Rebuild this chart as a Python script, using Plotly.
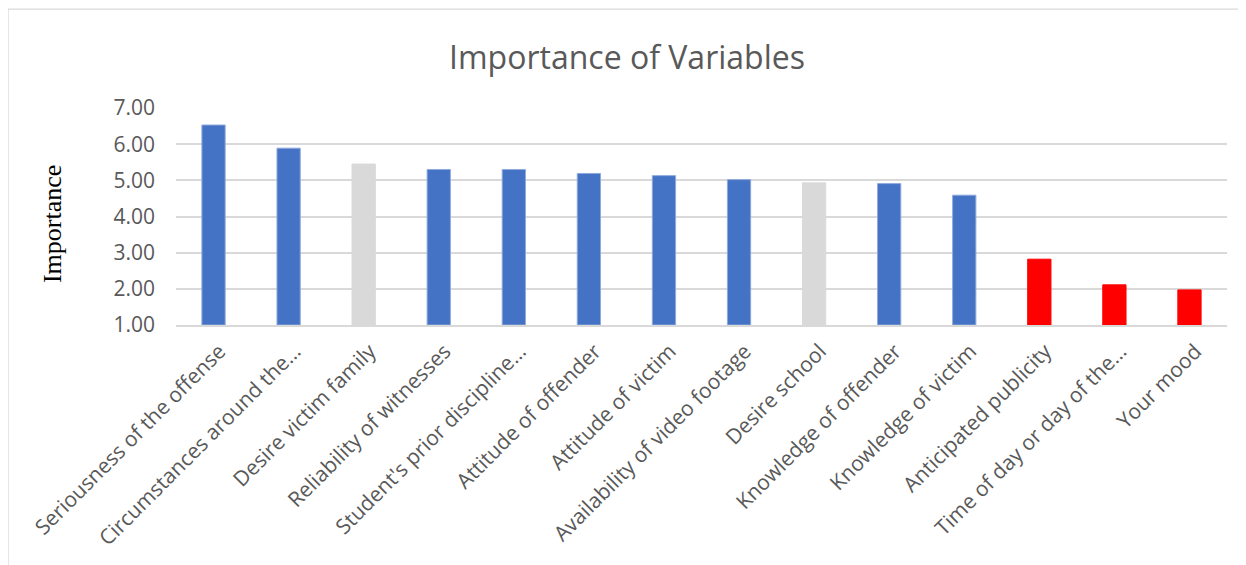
import plotly.graph_objects as go

categories = [
    "Seriousness of the offense",
    "Circumstances around the…",
    "Desire victim family",
    "Reliability of witnesses",
    "Student's prior discipline…",
    "Attitude of offender",
    "Attitude of victim",
    "Availability of video footage",
    "Desire school",
    "Knowledge of offender",
    "Knowledge of victim",
    "Anticipated publicity",
    "Time of day or day of the…",
    "Your mood",
]
values = [6.53, 5.89, 5.45, 5.30, 5.30, 5.19, 5.13, 5.02, 4.93, 4.91, 4.59, 2.82, 2.11, 1.97]
groups = ["blue", "blue", "gray", "blue", "blue", "blue", "blue", "blue", "gray", "blue", "blue", "red", "red", "red"]

color_map = {"blue": "#4472C4", "gray": "#D9D9D9", "red": "#FF0000"}
line_map = {"blue": "#8FAADC", "gray": "#D9D9D9", "red": "#FF0000"}

baseline = 1.0
fig = go.Figure()
fig.add_trace(go.Bar(
    x=categories,
    y=[v - baseline for v in values],
    base=baseline,
    marker=dict(color=[color_map[g] for g in groups],
                line=dict(color=[line_map[g] for g in groups], width=1)),
    width=0.31,
    hovertext=[f"{v:.2f}" for v in values],
))

fig.update_layout(
    width=1238, height=557,
    margin=dict(l=168, r=19, t=100, b=240),
    paper_bgcolor="white", plot_bgcolor="white",
    showlegend=False,
    title=dict(text="Importance of Variables", x=0.5, xanchor="center", y=0.91, yanchor="middle",
               font=dict(family="Open Sans", size=32, color="#595959")),
    font=dict(family="Open Sans", color="#595959"),
)
fig.update_yaxes(
    range=[1, 7], tickvals=[1, 2, 3, 4, 5, 6, 7], tickformat=".2f",
    showgrid=True, gridcolor="#D9D9D9", gridwidth=1.5,
    zeroline=False, showline=False,
    tickfont=dict(family="Open Sans", size=21, color="#595959"),
    ticks="", ticklen=0, ticklabelstandoff=20,
)
fig.update_xaxes(
    tickangle=-45, showline=True, linecolor="#D9D9D9", linewidth=1.5,
    tickfont=dict(family="Open Sans", size=21, color="#595959"),
    showgrid=False, ticks="", ticklabelstandoff=4, ticklabelshift=6,
)
fig.add_annotation(text="Importance", xref="paper", yref="paper",
                   x=-0.118, y=0.465, xanchor="center", yanchor="middle",
                   textangle=-90, showarrow=False,
                   font=dict(family="Liberation Serif", size=26, color="black"))
fig.add_shape(type="rect", xref="paper", yref="paper",
              x0=-0.1598, x1=1.2, y0=-1.3, y1=1.456,
              line=dict(color="#D9D9D9", width=1.2), layer="below")

fig.write_html("out.html")
